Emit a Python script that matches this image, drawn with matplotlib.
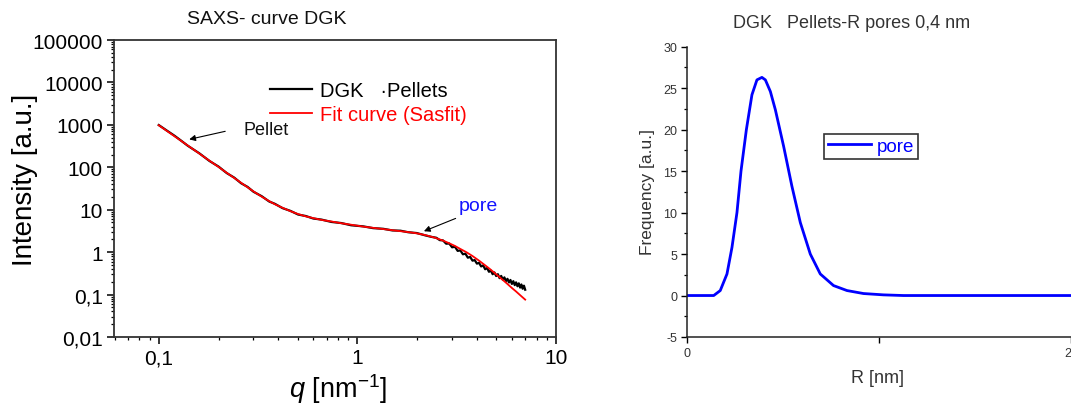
import numpy as np
import matplotlib
matplotlib.use("Agg")
import matplotlib.pyplot as plt
from matplotlib.ticker import FixedLocator, LogLocator, NullFormatter, FuncFormatter, MultipleLocator

plt.rcParams['font.family'] = ['Liberation Sans', 'DejaVu Sans']
plt.rcParams['mathtext.fontset'] = 'custom'
plt.rcParams['mathtext.rm'] = 'Liberation Sans'
plt.rcParams['mathtext.it'] = 'Liberation Sans:italic'
plt.rcParams['axes.unicode_minus'] = False

q_meas = [0.10, 0.11, 0.12, 0.13, 0.14, 0.16, 0.18, 0.20, 0.22, 0.24, 0.26, 0.28, 0.30,
          0.33, 0.36, 0.384, 0.42, 0.46, 0.503, 0.55, 0.60, 0.66, 0.74, 0.83, 0.93, 1.07,
          1.2, 1.35, 1.5, 1.65, 1.8, 1.99, 2.2, 2.35,
          2.5, 2.6, 2.7, 2.8, 2.9, 3.0, 3.1, 3.2, 3.3, 3.4, 3.5, 3.6, 3.7, 3.8, 3.9, 4.0,
          4.1, 4.2, 4.3, 4.4, 4.5, 4.6, 4.7, 4.8, 4.9, 5.0, 5.1, 5.2, 5.3, 5.4, 5.5, 5.6,
          5.7, 5.8, 5.9, 6.0, 6.1, 6.2, 6.3, 6.4, 6.5, 6.6, 6.7, 6.8, 6.9, 7.0]
I_meas = [990, 730, 555, 420, 322, 214, 141, 104, 73, 57, 42, 34.5, 26.5,
          20.8, 15.6, 13.8, 10.9, 9.4, 7.7, 7.1, 6.2, 5.85, 5.15, 4.85, 4.3, 4.05,
          3.68, 3.55, 3.25, 3.2, 2.95, 2.82, 2.48, 2.3,
          2.18, 1.92, 1.89, 1.58, 1.60, 1.30, 1.34, 1.07, 1.10, 0.89, 0.92, 0.74, 0.77, 0.63, 0.65, 0.536,
          0.56, 0.46, 0.487, 0.395, 0.423, 0.344, 0.369, 0.302, 0.332, 0.274, 0.302, 0.244, 0.275, 0.225, 0.254, 0.207,
          0.235, 0.193, 0.221, 0.178, 0.207, 0.167, 0.194, 0.157, 0.184, 0.146, 0.173, 0.137, 0.162, 0.13]

# Fit curve (Sasfit)
q_fit = [0.10, 0.11, 0.12, 0.13, 0.14, 0.16, 0.18, 0.20, 0.22, 0.24, 0.26, 0.28, 0.30, 0.33, 0.36,
         0.384, 0.42, 0.46, 0.503, 0.55, 0.60, 0.66, 0.74, 0.83, 0.93, 1.07, 1.2, 1.35, 1.5, 1.65,
         1.8, 1.99, 2.2, 2.45, 2.71, 2.9, 3.1, 3.3, 3.55, 3.8, 4.1, 4.35, 4.65, 4.9, 5.2, 5.45,
         5.65, 6.0, 6.3, 6.6, 7.0]
I_fit = [980, 718, 540, 416, 326, 211, 143, 102, 74, 56, 43, 33.8, 27, 20.3, 15.9,
         13.5, 11.1, 9.25, 7.9, 6.97, 6.34, 5.75, 5.28, 4.8, 4.43, 4.0, 3.74, 3.5, 3.29, 3.12,
         2.97, 2.78, 2.52, 2.2, 1.86, 1.62, 1.40, 1.19, 0.99, 0.81, 0.63, 0.51, 0.40, 0.326, 0.257, 0.213,
         0.184, 0.143, 0.118, 0.097, 0.076]

# pore size distribution
R_nm = [0.0, 0.139, 0.173, 0.208, 0.234, 0.260, 0.281, 0.309, 0.338, 0.364, 0.390, 0.408,
        0.434, 0.460, 0.503, 0.546, 0.590, 0.642, 0.694, 0.763, 0.833, 0.919, 1.023, 1.127, 2.0]
freq = [0.0, 0.0, 0.6, 2.6, 5.8, 10.0, 15.0, 20.0, 24.2, 26.0, 26.3, 26.0,
        24.6, 22.4, 18.0, 13.2, 8.8, 5.0, 2.6, 1.2, 0.6, 0.24, 0.08, 0.0, 0.0]

x_ticks_left = [0.1, 1, 10]
y_ticks_left = [0.01, 0.1, 1, 10, 100, 1000, 10000, 100000]


def komma(v, pos=None):
    s = ('%g' % v) if v < 1 else '%d' % v
    return s.replace('.', ',')


fig = plt.figure(figsize=(10.71, 4.06), dpi=100)

# ---- left: SAXS curve
ax1 = fig.add_axes([0.1064, 0.1675, 0.4127, 0.7315])
ax1.plot(q_meas, I_meas, color='black', lw=1.6, label='DGK   \u00b7Pellets')
ax1.plot(q_fit, I_fit, color='#ff0000', lw=1.3, label='Fit curve (Sasfit)')
ax1.set_xscale('log')
ax1.set_yscale('log')
ax1.set_xlim(0.0595, 10)
ax1.set_ylim(0.01, 100000)
ax1.xaxis.set_major_locator(FixedLocator(x_ticks_left))
ax1.yaxis.set_major_locator(FixedLocator(y_ticks_left))
ax1.xaxis.set_minor_locator(LogLocator(base=10, subs=np.arange(2, 10)))
ax1.yaxis.set_minor_locator(LogLocator(base=10, subs=np.arange(2, 10), numticks=20))
ax1.xaxis.set_minor_formatter(NullFormatter())
ax1.yaxis.set_minor_formatter(NullFormatter())
ax1.xaxis.set_major_formatter(FuncFormatter(komma))
ax1.yaxis.set_major_formatter(FuncFormatter(komma))
ax1.tick_params(which='major', direction='out', length=5, width=1.1, labelsize=15, pad=3)
ax1.tick_params(which='minor', direction='out', length=2.5, width=0.9)
for sp in ax1.spines.values():
    sp.set_linewidth(1.3)
    sp.set_color('#333333')

ax1.set_xlabel('$q$ [nm$^{-1}$]', fontsize=19.5)
ax1.xaxis.set_label_coords(0.507, -0.172)
ax1.xaxis.label.set_va('center')
ax1.set_ylabel('Intensity [a.u.]', fontsize=20)
ax1.yaxis.set_label_coords(-0.201, 0.532)
ax1.yaxis.label.set_va('center')

leg1 = ax1.legend(loc='upper left', bbox_to_anchor=(0.352, 0.862), frameon=False,
                  fontsize=14.5, handlelength=2.1, handletextpad=0.4,
                  borderaxespad=0, borderpad=0, labelspacing=0.25,
                  labelcolor=['black', '#ff0000'])

ax1.annotate('', xy=(0.138, 440), xytext=(0.223, 728),
             arrowprops=dict(arrowstyle='-|>', color='black', lw=0.8, mutation_scale=9))
ax1.text(0.266, 798, 'Pellet', fontsize=13, ha='left', va='center', color='#111111')
ax1.annotate('', xy=(2.10, 2.94), xytext=(3.22, 6.6),
             arrowprops=dict(arrowstyle='-|>', color='black', lw=0.8, mutation_scale=9))
ax1.text(3.22, 12.4, 'pore', fontsize=14, ha='left', va='center', color='#1414ff')

fig.text(267 / 1071, 1 - 20 / 406, 'SAXS- curve DGK', fontsize=14, ha='center', va='center',
         color='#111111')

# ---- right: pore size distribution
ax2 = fig.add_axes([0.6415, 0.1675, 0.3585, 0.715])
ax2.plot(R_nm, freq, color='#0000ff', lw=2, label='pore')
ax2.set_xlim(0, 2)
ax2.set_ylim(-5, 30)
ax2.spines['top'].set_visible(False)
ax2.spines['right'].set_visible(False)
for sp in ['left', 'bottom']:
    ax2.spines[sp].set_linewidth(1.1)
    ax2.spines[sp].set_color('#222222')
ax2.xaxis.set_major_locator(FixedLocator([0, 1, 2]))
ax2.xaxis.set_major_formatter(FuncFormatter(lambda v, p: '' if v == 1 else '%d' % v))
ax2.yaxis.set_major_locator(MultipleLocator(5))
ax2.yaxis.set_minor_locator(MultipleLocator(2.5))
ax2.yaxis.set_major_formatter(FuncFormatter(lambda v, p: '%d' % v))
ax2.tick_params(which='major', direction='out', length=4, width=1, labelsize=9,
                labelcolor='#333333', pad=3)
ax2.tick_params(which='minor', direction='out', length=2.5, width=0.9)
# last x tick label sits on the figure edge, keep it inside
ax2.get_xticklabels()[-1].set_ha('right')
ax2.set_xlabel('R [nm]', fontsize=13, color='#333333')
ax2.xaxis.set_label_coords(0.497, -0.138)
ax2.xaxis.label.set_va('center')
ax2.set_ylabel('Frequency [a.u.]', fontsize=12.5, color='#333333')
ax2.yaxis.set_label_coords(-0.104, 0.503)
ax2.yaxis.label.set_va('center')

leg2 = ax2.legend(loc='upper left', bbox_to_anchor=(0.357, 0.70), fancybox=False,
                  edgecolor='black', fontsize=13.5, handlelength=2.3, handletextpad=0.3,
                  borderpad=0.22, borderaxespad=0, labelcolor='#0000ff')
leg2.get_frame().set_linewidth(1.2)

fig.text(852 / 1071, 1 - 24 / 406, 'DGK   Pellets-R pores 0,4 nm', fontsize=13, ha='center',
         va='center', color='#333333')

fig.savefig('out.png', dpi=100)
